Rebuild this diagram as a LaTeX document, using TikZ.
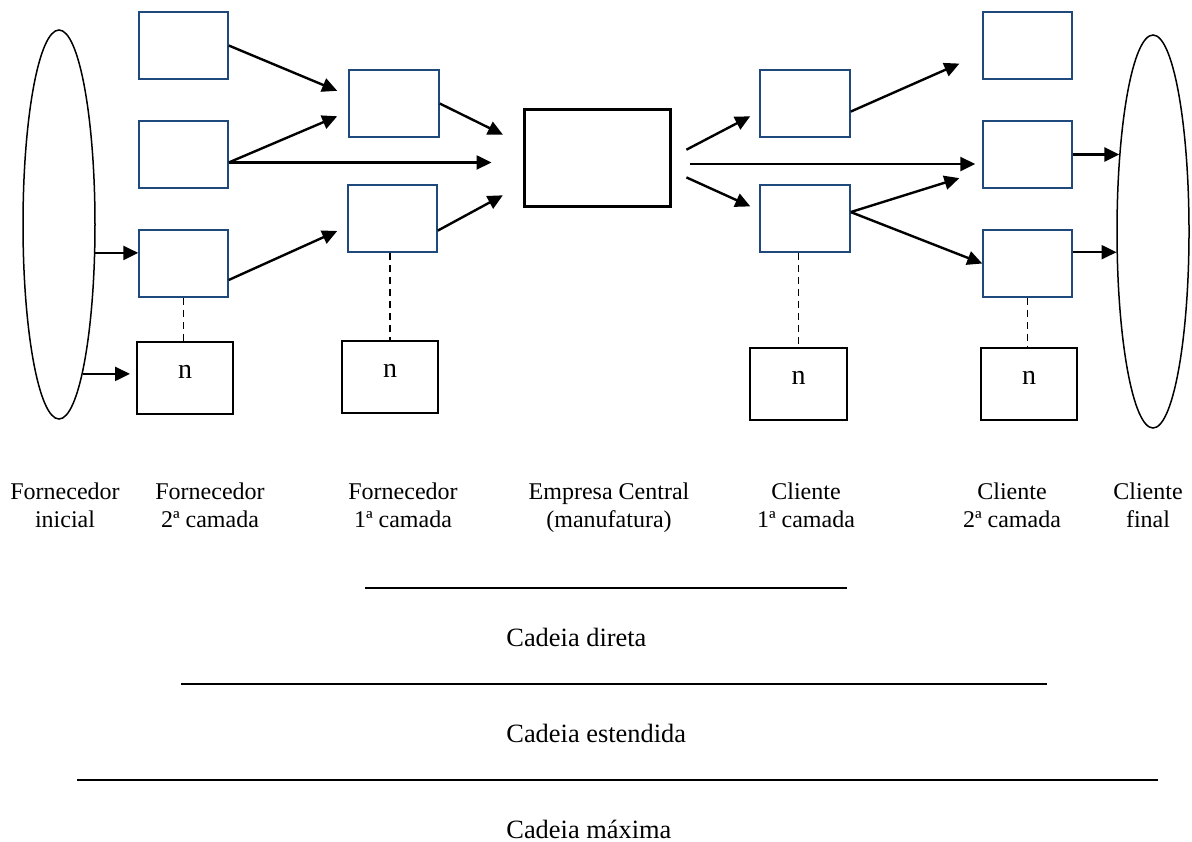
\documentclass[tikz,border=0pt]{standalone}
\usepackage{fontspec}
\setmainfont{Liberation Serif}
\usetikzlibrary{positioning}
\usetikzlibrary{arrows.meta,shapes.geometric}
\definecolor{boxblue}{RGB}{31,73,125}

\begin{document}
\begin{tikzpicture}[x=0.5pt,y=-0.5pt,
  tier/.style={draw=boxblue,line width=0.75pt,inner sep=0pt,minimum width=44.5pt,minimum height=33.5pt},
  nbox/.style={draw,line width=1pt,inner sep=0pt,minimum width=48pt,minimum height=36pt,
    font=\fontsize{14}{16}\selectfont,text height=6.4pt,text depth=5.9pt},
  hub/.style={draw,line width=1.5pt,inner sep=0pt,minimum width=73pt,minimum height=48.5pt},
  pool/.style={draw,ellipse,line width=0.75pt,inner sep=0pt,minimum width=36pt},
  arrowflow/.style={-{Triangle[length=7.5pt,width=7pt]},line width=1.2pt},
  dashlink/.style={line width=0.8pt,dash pattern=on 3.5pt off 2.5pt},
  tag/.style={align=center,font=\fontsize{12}{14}\selectfont,anchor=base},
  rangetext/.style={anchor=base west,inner sep=0pt,font=\fontsize{13.2}{15}\selectfont}]
 \useasboundingbox (0,0) rectangle (1192,841);

 % end points of the chain
 \node[pool,minimum height=194.5pt] (lsrc) at (59,224.5) {};
 \node[pool,minimum height=196.5pt] (rdst) at (1153,231.5) {};

 % suppliers
 \node[tier] (A) at (183.5,45.5) {};
 \node[tier] (B) at (183.5,154.5) {};
 \node[tier] (C) at (183.5,263.5) {};
 \node[nbox] (n1) at (185,378) {n};
 \node[tier,minimum width=45pt] (D) at (394,103.5) {};
 \node[tier] (E) at (392.5,218.5) {};
 \node[nbox] (n2) at (390,377) {n};

 % focal firm
 \node[hub] (hub) at (597,157.5) {};

 % customers
 \node[tier,minimum width=45pt] (T1a) at (805,103.5) {};
 \node[tier,minimum width=45pt] (T1b) at (805,218.5) {};
 \node[nbox,minimum width=48.5pt] (n3) at (798.5,384) {n};
 \node[tier] (T2a) at (1027.5,45.5) {};
 \node[tier] (T2b) at (1027.5,154.5) {};
 \node[tier] (T2c) at (1027.5,263.5) {};
 \node[nbox] (n4) at (1029,384) {n};

 % flows
 \draw[arrowflow,shorten >=6pt] (A.east) -- (D.170);
 \draw[arrowflow,shorten >=6pt] (B.-10) -- (D.190);
 \draw[arrowflow,shorten >=15.5pt] (B.-10) -- (B.-10 -| hub.west);
 \draw[arrowflow,shorten >=5.5pt] (C.-20) -- (E.190);
 \draw[arrowflow,shorten >=10.9pt] (D.east) -- (hub.170);
 \draw[arrowflow,shorten >=11.2pt] (E.-15) -- (hub.200);
 \draw[arrowflow] (lsrc.-38) -- (lsrc.-38 -| C.west);
 \draw[arrowflow,shorten >=3pt] (lsrc.-81) -- (lsrc.-81 -| n1.west);
 \draw[arrowflow,shorten <=8.4pt,shorten >=5.1pt] (hub.east) -- (T1a.190);
 \draw[arrowflow,shorten <=9pt,shorten >=3.5pt] (hub.-5) -- (hub.-5 -| T2b.west);
 \draw[arrowflow,shorten <=8.2pt,shorten >=4.9pt] (hub.-10) -- (T1b.170);
 \draw[arrowflow,shorten >=12.5pt] (T1a.-10) -- (T2a.190);
 \draw[arrowflow,shorten >=12pt] (T1b.8) -- (T2b.200);
 \draw[arrowflow] (T1b.8) -- (T2c.west);
 \draw[arrowflow] (T2b.east) -- (T2b.east -| rdst.113);
 \draw[arrowflow] (T2c.14) -- (T2c.14 -| rdst.211);

 % n links
 \draw[dashlink] (C.south) -- (C.south |- n1.north);
 \draw[dashlink] (n2.north |- E.south) -- (n2.north);
 \draw[dashlink] (n3.north |- T1b.south) -- (n3.north);
 \draw[dashlink] (T2c.south) -- (T2c.south |- n4.north);

 % tier names
 \node[tag] (lblsrc) at (65,527) {Fornecedor\\inicial};
 \node[tag] (lblF2) at (210,527) {Fornecedor\\2ª camada};
 \node[tag] (lblF1) at (403,527) {Fornecedor\\1ª camada};
 \node[tag] (lblhub) at (609,527) {Empresa Central\\(manufatura)};
 \node[tag] (lblC1) at (806,527) {Cliente\\1ª camada};
 \node[tag] (lblC2) at (1012,527) {Cliente\\2ª camada};
 \node[tag] (lbldst) at (1148,527) {Cliente\\final};

 % chain ranges
 \draw[line width=1.25pt] (365,588) -- (847,588);
 \node[rangetext] (direta) at (506,646) {Cadeia direta};
 \draw[line width=1.25pt] (181,684) -- (1047,684);
 \node[rangetext] (estendida) at (506,742) {Cadeia estendida};
 \draw[line width=1.25pt] (77,780) -- (1158,780);
 \node[rangetext] (maxima) at (506,838) {Cadeia máxima};
\end{tikzpicture}
\end{document}
